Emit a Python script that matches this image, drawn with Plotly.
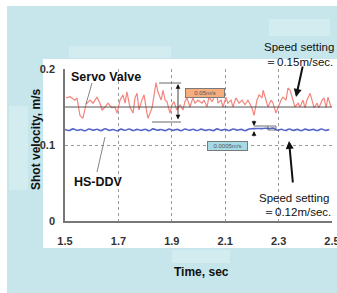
import plotly.graph_objects as go

# ---------------- data ----------------
SERVO_T = [1.504,1.519,1.537,1.545,1.556,1.567,1.579,1.594,1.605,1.620,1.631,1.639,1.650,1.661,1.676,1.687,1.695,
           1.706,1.717,1.725,1.732,1.743,1.755,1.762,1.770,1.777,1.788,1.796,1.807,1.811,1.826,1.833,1.841,1.848,
           1.860,1.867,1.875,1.882,1.893,1.901,1.908,1.919,1.931,1.942,1.949,1.957,1.968,1.979,1.987,1.998,2.013,
           2.021,2.032,2.039,2.051,2.062,2.069,2.073,2.084,2.092,2.103,2.110,2.122,2.129,2.140,2.152,2.163,2.174,
           2.185,2.200,2.208,2.219,2.227,2.238,2.242,2.253,2.260,2.272,2.279,2.290,2.298,2.309,2.316,2.328,2.335,
           2.343,2.354,2.361,2.373,2.380,2.391,2.399,2.406,2.418,2.425,2.433,2.444,2.451,2.463,2.470,2.478,2.485,2.496]
SERVO_V = [0.162,0.1636,0.159,0.162,0.139,0.135,0.154,0.159,0.155,0.163,0.155,0.146,0.150,0.155,0.149,0.150,0.142,
           0.159,0.166,0.155,0.170,0.150,0.142,0.162,0.168,0.146,0.159,0.166,0.142,0.135,0.149,0.163,0.182,0.170,
           0.159,0.172,0.159,0.157,0.142,0.153,0.157,0.146,0.153,0.146,0.157,0.162,0.150,0.162,0.155,0.159,0.155,
           0.159,0.150,0.163,0.157,0.166,0.167,0.155,0.159,0.150,0.163,0.155,0.159,0.150,0.162,0.155,0.159,0.153,
           0.159,0.149,0.139,0.159,0.166,0.162,0.172,0.159,0.150,0.159,0.155,0.142,0.150,0.159,0.163,0.159,0.175,
           0.172,0.159,0.150,0.155,0.150,0.159,0.149,0.159,0.168,0.159,0.149,0.155,0.149,0.159,0.162,0.149,0.163,0.150]

DDV_T = [1.500,1.515,1.530,1.545,1.560,1.575,1.590,1.605,1.620,1.635,1.650,1.665,1.680,1.695,1.710,1.725,1.740,
         1.755,1.770,1.785,1.800,1.815,1.830,1.845,1.860,1.875,1.890,1.905,1.920,1.935,1.950,1.965,1.980,1.995,
         2.010,2.025,2.040,2.055,2.070,2.085,2.100,2.115,2.130,2.145,2.160,2.175,2.190,2.205,2.220,2.235,2.250,
         2.265,2.280,2.295,2.310,2.325,2.340,2.355,2.370,2.385,2.400,2.415,2.430,2.445,2.460,2.475,2.490]
DDV_V = [0.1205,0.1190,0.1212,0.1192,0.1203,0.1188,0.1210,0.1195,0.1207,0.1189,
         0.1213,0.1193,0.1204,0.1187,0.1209,0.1194,0.1211,0.1190,0.1206,0.1192,
         0.1208,0.1188,0.1212,0.1195,0.1203,0.1189,0.1210,0.1193,0.1206,0.1188,
         0.1211,0.1194,0.1207,0.1190,0.1209,0.1192,0.1204,0.1189,0.1212,0.1193,
         0.1206,0.1190,0.1210,0.1195,0.1205,0.1188,0.1211,0.1215,0.1218,0.1216,
         0.1220,0.1217,0.1222,0.1195,0.1208,0.1190,0.1210,0.1193,0.1205,0.1189,
         0.1209,0.1194,0.1206,0.1190,0.1211,0.1193,0.1204]

SETTING_SERVO = 0.15
X_TICKS = [1.5, 1.7, 1.9, 2.1, 2.3, 2.5]
X_TICK_TEXT = ["1.5", "1.7", "1.9", "2.1", "2.3", "2.5"]
Y_TICKS = [0, 0.1, 0.2]
Y_TICK_TEXT = ["0", "0.1", "0.2"]

# ---------------- layout geometry ----------------
W, H = 337, 293
L, R, T, B = 65, 5, 69, 72
PW, PH = W - L - R, H - T - B
X0, X1 = 1.5, 2.5
Y0, Y1 = 0.0, 0.2

def px(X):  # pixel -> paper x
    return (X - L) / PW
def py(Y):  # pixel -> paper y
    return (H - B - Y) / PH
def dx(X):  # pixel -> data x
    return X0 + (X - L) / PW * (X1 - X0)
def dy(Y):
    return Y0 + (H - B - Y) / PH * (Y1 - Y0)

BG = "#c6e6ec"
PATCH = "#d3ecf0"
FONT = "Liberation Sans, Arial, sans-serif"
NARROW = "Liberation Sans Narrow, Arial Narrow, Liberation Sans, sans-serif"

fig = go.Figure()
fig.add_trace(go.Scatter(x=SERVO_T, y=SERVO_V, mode="lines",
                         line=dict(color="#f4857c", width=1.2), hoverinfo="skip"))
fig.add_trace(go.Scatter(x=DDV_T, y=DDV_V, mode="lines", line_shape="spline",
                         line=dict(color="#5565c8", width=1.6), hoverinfo="skip"))

shapes = []
# cyan background & white panel
shapes.append(dict(type="rect", xref="paper", yref="paper", layer="below",
                   x0=px(7), x1=px(337), y0=py(293), y1=py(6), fillcolor=BG, line_width=0))
shapes.append(dict(type="rect", xref="paper", yref="paper", layer="below",
                   x0=px(69), x1=px(171), y0=py(58), y1=py(46), fillcolor=PATCH, line_width=0))
shapes.append(dict(type="rect", xref="paper", yref="paper", layer="below",
                   x0=px(269), x1=px(330), y0=py(36), y1=py(19), fillcolor=PATCH, line_width=0))
shapes.append(dict(type="rect", xref="paper", yref="paper", layer="below",
                   x0=px(43), x1=px(337), y0=py(248), y1=py(59), fillcolor="white", line_width=0))
shapes.append(dict(type="rect", xref="paper", yref="paper", layer="below",
                   x0=px(172), x1=px(230), y0=py(263), y1=py(250), fillcolor=PATCH, line_width=0))
shapes.append(dict(type="rect", xref="paper", yref="paper", layer="below",
                   x0=px(9), x1=px(28), y0=py(190), y1=py(106), fillcolor=PATCH, line_width=0))
# setting line
shapes.append(dict(type="line", xref="paper", yref="y", x0=0, x1=1, y0=SETTING_SERVO, y1=SETTING_SERVO,
                   line=dict(color="#555555", width=1)))
# leader lines
shapes.append(dict(type="line", x0=dx(92), y0=dy(83), x1=dx(86), y1=dy(104), line=dict(color="#666", width=0.8)))
shapes.append(dict(type="line", x0=dx(105), y0=dy(137), x1=dx(97), y1=dy(172), line=dict(color="#666", width=0.8)))
# bracket lines for 0.05 m/s
shapes.append(dict(type="line", x0=dx(159), y0=dy(83), x1=dx(181), y1=dy(83), line=dict(color="#444", width=0.8)))
shapes.append(dict(type="line", x0=dx(152), y0=dy(122), x1=dx(181), y1=dy(122), line=dict(color="#444", width=0.8)))
# bracket for 0.0005 m/s
shapes.append(dict(type="line", x0=dx(254), y0=dy(126), x1=dx(268), y1=dy(126), line=dict(color="#444", width=0.8)))
shapes.append(dict(type="rect", x0=dx(268), y0=dy(130), x1=dx(276), y1=dy(126), line=dict(color="#555", width=0.8)))

annotations = []
def txt(X, Y, s, size=12, bold=False, xanchor="left", color="#111", angle=0, fam=FONT):
    annotations.append(dict(xref="paper", yref="paper", x=px(X), y=py(Y), text=s, showarrow=False,
                            xanchor=xanchor, yanchor="middle", textangle=angle,
                            font=dict(family=fam, size=size, color=color, weight="bold" if bold else "normal")))

txt(69, 77, "Servo Valve", 12.5, True)
txt(72, 182, "HS-DDV", 12.5, True)
txt(262, 46.5, "Speed setting", 11.5)
txt(263, 62, "＝0.15m/sec.", 11.5)
txt(257, 198, "Speed setting", 11.5)
txt(261, 211.5, "＝0.12m/sec.", 11.5)
txt(201, 272, "Time, sec", 12, True, xanchor="center")
txt(36, 140, "Shot velocity, m/s", 12, True, xanchor="center", angle=-90)

# value boxes
annotations.append(dict(xref="paper", yref="paper", x=px(205), y=py(87.5), text="0.05m/s", showarrow=False,
                        width=38, height=8, bgcolor="#f7ae7f", bordercolor="#7a7a7a", borderwidth=1, borderpad=0,
                        font=dict(family=NARROW, size=6, color="#555")))
annotations.append(dict(xref="paper", yref="paper", x=px(227.5), y=py(145.5), text="0.0005m/s", showarrow=False,
                        width=39, height=8, bgcolor="#a6dbe3", bordercolor="#7a7a7a", borderwidth=1, borderpad=0,
                        font=dict(family=NARROW, size=6, color="#555")))

def arrow(hx, hy, tx, ty, width=1.0, head=2, side="end", size=1.0, color="#111"):
    annotations.append(dict(x=dx(hx), y=dy(hy), xref="x", yref="y", ax=tx - hx, ay=ty - hy,
                            text="", showarrow=True, arrowhead=head, arrowside=side, arrowsize=size,
                            arrowwidth=width, arrowcolor=color, standoff=0, startstandoff=0))

arrow(296, 97, 303, 65, width=2, head=2, size=0.8)
arrow(289, 141, 293, 184, width=2, head=2, size=0.8)
arrow(178, 84, 178, 121, width=0.8, head=2, side="end+start", size=1.2)
arrow(254, 126, 254, 119, width=0.8, head=2, size=1.2)
arrow(254, 131, 254, 138, width=0.8, head=2, size=1.2)

fig.update_layout(
    width=W, height=H, margin=dict(l=L, r=R, t=T, b=B, autoexpand=False),
    paper_bgcolor="white", plot_bgcolor="rgba(0,0,0,0)",
    showlegend=False, shapes=shapes, annotations=annotations,
    xaxis=dict(range=[X0, X1], tickvals=X_TICKS, ticktext=X_TICK_TEXT, showgrid=True,
               gridcolor="#9a9a9a", griddash="dot", gridwidth=1, zeroline=False, automargin=False,
               showline=True, linecolor="#777", linewidth=1.5, ticks="", ticklabelstandoff=9,
               ticklabeloverflow="allow",
               tickfont=dict(family=NARROW, size=11, color="#333", weight="bold")),
    yaxis=dict(range=[Y0, Y1], tickvals=Y_TICKS, ticktext=Y_TICK_TEXT, showgrid=True,
               gridcolor="#9a9a9a", griddash="dot", gridwidth=1, zeroline=False, automargin=False,
               showline=True, linecolor="#777", linewidth=1.5, ticks="", ticklabelstandoff=6,
               tickfont=dict(family=NARROW, size=11, color="#333", weight="bold")),
)
fig.write_html(
    "out.html", config={"displayModeBar": False},
    post_script=("document.documentElement.style.overflow='hidden';"
                 "document.body.style.margin='0';document.body.style.overflow='hidden';"
                 "document.querySelectorAll('.plotly-graph-div, .svg-container, .main-svg')"
                 ".forEach(function(e){e.style.overflow='hidden';});"))
